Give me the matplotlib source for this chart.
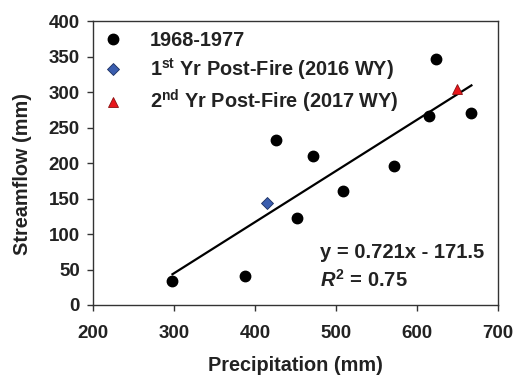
import matplotlib
matplotlib.use("Agg")
import matplotlib.pyplot as plt
import numpy as np

plt.rcParams['font.family'] = ['Liberation Sans', 'DejaVu Sans']
plt.rcParams['font.weight'] = 'bold'
plt.rcParams['mathtext.fontset'] = 'custom'
plt.rcParams['mathtext.rm'] = 'Liberation Sans:bold'
plt.rcParams['mathtext.bf'] = 'Liberation Sans:bold'
plt.rcParams['mathtext.it'] = 'Liberation Sans:bold:italic'

# Data
precip_hist = [298, 388, 426, 452, 472, 508, 572, 615, 623, 667]
flow_hist = [34, 41, 232, 123, 210, 160, 196, 267, 346, 270]
precip_2016 = [415]
flow_2016 = [144]
precip_2017 = [649]
flow_2017 = [304]
slope, intercept = 0.721, -171.5
xticks = [200, 300, 400, 500, 600, 700]
yticks = [0, 50, 100, 150, 200, 250, 300, 350, 400]

fig = plt.figure(figsize=(5.2, 3.77), dpi=100)
ax = fig.add_axes([0.179, 0.191, 0.779, 0.753])

ax.plot(precip_hist, flow_hist, 'o', color='black', markersize=7.5, label='1968-1977', zorder=3)
ax.plot(precip_2016, flow_2016, 'D', color='#3A5DAE', markeredgecolor='#1c2f60', markeredgewidth=0.6,
        markersize=6, label='1$^{\\mathrm{st}}$ Yr Post-Fire (2016 WY)', zorder=3)
ax.plot(precip_2017, flow_2017, '^', color='#E8161B', markeredgecolor='#8a1010', markeredgewidth=0.6,
        markersize=7, label='2$^{\\mathrm{nd}}$ Yr Post-Fire (2017 WY)', zorder=3)

xl = np.array([min(precip_hist), max(precip_hist)])
ax.plot(xl, slope * xl + intercept, color='black', linewidth=1.6, zorder=2)

ax.set_xlim(200, 700)
ax.set_ylim(0, 400)
ax.set_xticks(xticks)
ax.set_yticks(yticks)
ax.tick_params(direction='out', length=4, width=1, labelsize=13.5, color='#333333')
ax.tick_params(axis='y', pad=5.5)
ax.tick_params(axis='x', pad=10.5)
for lab in ax.get_xticklabels() + ax.get_yticklabels():
    lab.set_fontweight('bold')
    lab.set_color('#222222')
for s in ax.spines.values():
    s.set_linewidth(1)
    s.set_color('#333333')

ax.set_xlabel('Precipitation (mm)', fontsize=14.3, fontweight='bold', labelpad=10, color='#222222')
ax.set_ylabel('Streamflow (mm)', fontsize=14.3, fontweight='bold', color='#222222')
ax.yaxis.set_label_coords(-0.151, 0.463)

leg = ax.legend(loc='upper left', frameon=False, fontsize=14.3, handletextpad=1.35,
                borderaxespad=0.0, borderpad=0.5, labelspacing=0.3, handlelength=1.0,
                bbox_to_anchor=(0.0, 1.0))
for t in leg.get_texts():
    t.set_fontweight('bold')
    t.set_color('#222222')

ax.text(480, 65.8, 'y = 0.721x - 171.5', fontsize=14.5, fontweight='bold', va='baseline', color='#222222')
ax.text(480, 25.8, '$\\mathit{R}^{2}$ = 0.75', fontsize=14.5, fontweight='bold', va='baseline', color='#222222')

fig.savefig('out.png', dpi=100)
